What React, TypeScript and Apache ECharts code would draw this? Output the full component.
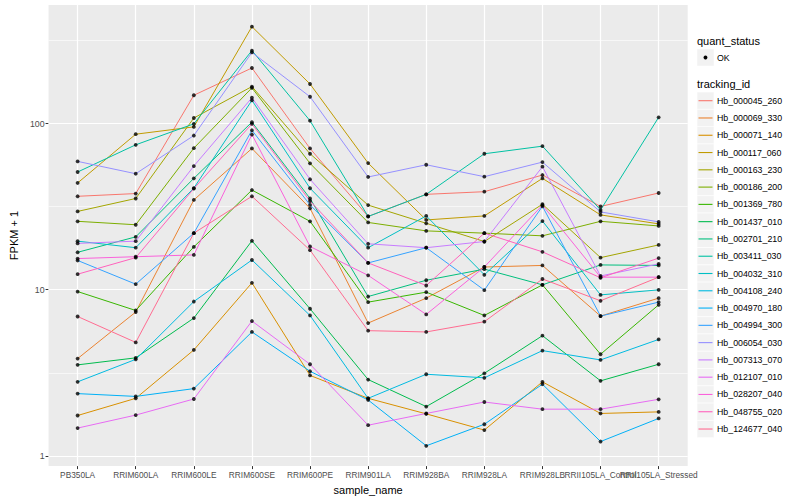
import React, { useEffect, useRef } from "react";
import * as echarts from "echarts";

const FONT = "'Liberation Sans', Arial, Helvetica, sans-serif";

const sampleNames = [
  "PB350LA", "RRIM600LA", "RRIM600LE", "RRIM600SE", "RRIM600PE", "RRIM901LA",
  "RRIM928BA", "RRIM928LA", "RRIM928LB", "RRII105LA_Control", "RRII105LA_Stressed",
];

const yTickValues = [1, 10, 100];
const yMinorValues = [3.1623, 31.623, 316.23];

const trackingIds = [
  "Hb_000045_260", "Hb_000069_330", "Hb_000071_140", "Hb_000117_060", "Hb_000163_230",
  "Hb_000186_200", "Hb_001369_780", "Hb_001437_010", "Hb_002701_210", "Hb_003411_030",
  "Hb_004032_310", "Hb_004108_240", "Hb_004970_180", "Hb_004994_300", "Hb_006054_030",
  "Hb_007313_070", "Hb_012107_010", "Hb_028207_040", "Hb_048755_020", "Hb_124677_040",
];

const trackingColors = [
  "#F8766D", "#EA8331", "#D89000", "#C09B00", "#A3A500",
  "#7CAE00", "#39B600", "#00BB4E", "#00BF7D", "#00C1A3",
  "#00BFC4", "#00BAE0", "#00B0F6", "#35A2FF", "#9590FF",
  "#C77CFF", "#E76BF3", "#FA62DB", "#FF62BC", "#FF6C91",
];

// FPKM + 1 per sample
const hb000045_260 = [36.5, 37.9, 148, 216, 70.8, 27.6, 37.5, 38.9, 49.0, 31.7, 38.2];
const hb000069_330 = [3.85, 7.34, 34.7, 70.8, 30.9, 6.3, 8.9, 13.7, 14.0, 6.94, 8.9];
const hb000071_140 = [1.75, 2.22, 4.34, 11.0, 3.05, 2.22, 1.79, 1.43, 2.79, 1.8, 1.84];
const hb000117_060 = [43.9, 86.3, 95.5, 383, 173, 57.8, 26.3, 27.8, 46.8, 28.2, 24.9];
const hb000163_230 = [29.6, 35.4, 108, 167, 65.8, 32.3, 25.1, 19.5, 32.7, 15.6, 18.6];
const hb000186_200 = [25.8, 24.6, 71.1, 164, 57.6, 25.4, 22.6, 21.9, 21.1, 25.8, 24.2];
const hb001369_780 = [9.75, 7.5, 18.1, 39.8, 25.8, 8.42, 9.67, 7.0, 10.7, 4.09, 8.11];
const hb001437_010 = [3.53, 3.89, 6.75, 19.7, 7.68, 2.88, 1.98, 3.14, 5.29, 2.83, 3.56];
const hb002701_210 = [16.8, 20.8, 46.8, 102, 35.4, 9.1, 11.4, 13.3, 10.7, 14.1, 14.0];
const hb003411_030 = [51.1, 74.5, 99.6, 275, 104, 27.6, 37.5, 65.8, 73.1, 30.2, 109];
const hb004032_310 = [19.6, 17.9, 40.9, 138, 40.8, 17.9, 27.8, 12.3, 25.9, 9.31, 9.98];
const hb004108_240 = [2.79, 3.81, 8.49, 15.1, 7.0, 2.22, 3.1, 2.95, 4.3, 3.78, 5.02];
const hb004970_180 = [2.37, 2.28, 2.54, 5.57, 3.23, 2.17, 1.15, 1.55, 2.7, 1.22, 1.68];
const hb004994_300 = [15.0, 10.8, 21.9, 91.1, 32.4, 14.5, 17.9, 9.94, 31.8, 6.94, 8.42];
const hb006054_030 = [59.2, 49.9, 84.7, 268, 145, 47.7, 56.5, 47.9, 58.6, 29.4, 25.6];
const hb007313_070 = [19.0, 19.6, 55.5, 143, 46.2, 18.9, 17.9, 19.5, 55.0, 12.1, 14.3];
const hb012107_010 = [1.47, 1.76, 2.2, 6.48, 3.56, 1.53, 1.8, 2.11, 1.91, 1.91, 2.19];
const hb028207_040 = [15.4, 15.8, 16.2, 85.9, 18.2, 12.2, 7.1, 13.7, 32.3, 11.9, 11.9];
const hb048755_020 = [12.4, 15.6, 40.6, 99.6, 34.2, 14.5, 10.6, 21.9, 16.9, 11.8, 15.5];
const hb124677_040 = [6.9, 4.82, 21.9, 36.5, 17.3, 5.67, 5.57, 6.42, 11.6, 8.58, 11.9];

const seriesValues = [
  hb000045_260, hb000069_330, hb000071_140, hb000117_060, hb000163_230,
  hb000186_200, hb001369_780, hb001437_010, hb002701_210, hb003411_030,
  hb004032_310, hb004108_240, hb004970_180, hb004994_300, hb006054_030,
  hb007313_070, hb012107_010, hb028207_040, hb048755_020, hb124677_040,
];

const quantStatus = ["OK"];

function buildLegend() {
  const g: any[] = [];
  g.push({
    type: "text", x: 697, y: 40.7, silent: true,
    style: { text: "quant_status", fontSize: 11, fontFamily: FONT, fill: "#000", verticalAlign: "middle" },
  });
  g.push({
    type: "rect", silent: true,
    shape: { x: 697, y: 49, width: 17, height: 17 },
    style: { fill: "#F2F2F2", stroke: "#fff", lineWidth: 0.5 },
  });
  g.push({
    type: "circle", silent: true,
    shape: { cx: 705.5, cy: 57.5, r: 1.9 },
    style: { fill: "#000" },
  });
  g.push({
    type: "text", x: 717, y: 57.5, silent: true,
    style: { text: quantStatus[0], fontSize: 8.8, fontFamily: FONT, fill: "#000", verticalAlign: "middle" },
  });
  g.push({
    type: "text", x: 697, y: 84, silent: true,
    style: { text: "tracking_id", fontSize: 11, fontFamily: FONT, fill: "#000", verticalAlign: "middle" },
  });
  const step = 17.28;
  trackingIds.forEach((id, i) => {
    const cy = 100.7 + i * step;
    g.push({
      type: "rect", silent: true,
      shape: { x: 697, y: cy - step / 2, width: 17, height: step },
      style: { fill: "#F2F2F2", stroke: "#fff", lineWidth: 0.6 },
    });
    g.push({
      type: "line", silent: true,
      shape: { x1: 698.5, y1: cy, x2: 712.5, y2: cy },
      style: { stroke: trackingColors[i], lineWidth: 1.1 },
    });
    g.push({
      type: "text", x: 717, y: cy, silent: true,
      style: { text: id, fontSize: 8.8, fontFamily: FONT, fill: "#000", verticalAlign: "middle" },
    });
  });
  return g;
}

export default function App() {
  const ref = useRef<HTMLDivElement>(null);

  useEffect(() => {
    if (!ref.current) return;
    const chart = echarts.init(ref.current, undefined, { renderer: "svg" });

    const gridLines = {
      type: "line",
      name: "__grid",
      data: sampleNames.map(() => "-"),
      symbol: "none",
      silent: true,
      z: 1,
      markLine: {
        silent: true,
        z: 1,
        symbol: ["none", "none"],
        label: { show: false },
        emphasis: { disabled: true },
        lineStyle: { color: "#FFFFFF", type: "solid", width: 1.2 },
        data: [
          ...sampleNames.map((s) => ({ xAxis: s, lineStyle: { color: "#FFFFFF", width: 1.2, type: "solid" } })),
          ...yTickValues.map((v) => ({ yAxis: v, lineStyle: { color: "#FFFFFF", width: 1.2, type: "solid" } })),
          ...yMinorValues.map((v) => ({ yAxis: v, lineStyle: { color: "#FFFFFF", width: 0.6, type: "solid" } })),
        ],
      },
    };

    const lineSeries = seriesValues.map((vals, i) => ({
      type: "line",
      name: trackingIds[i],
      data: vals,
      symbol: "none",
      z: 2,
      lineStyle: { color: trackingColors[i], width: 1 },
      itemStyle: { color: trackingColors[i] },
      emphasis: { disabled: true },
      silent: true,
    }));

    const pointSeries = seriesValues.map((vals, i) => ({
      type: "scatter",
      name: trackingIds[i] + " " + quantStatus[0],
      data: vals,
      symbol: "circle",
      symbolSize: 3.8,
      z: 3,
      itemStyle: { color: "#000000" },
      emphasis: { disabled: true },
      silent: true,
    }));

    chart.setOption({
      animation: false,
      textStyle: { fontFamily: FONT },
      grid: {
        left: 39.3, right: 112.3, top: 5, bottom: 32,
        show: true, backgroundColor: "#EBEBEB", borderWidth: 0,
        containLabel: false,
      },
      xAxis: {
        type: "category",
        data: sampleNames,
        boundaryGap: true,
        axisLine: { show: false },
        axisTick: { show: true, alignWithLabel: true, length: 3, lineStyle: { color: "#333333", width: 1 } },
        axisLabel: { interval: 0, hideOverlap: false, color: "#4D4D4D", fontSize: 8.3, margin: 5, fontFamily: FONT },
        splitLine: { show: false },
        name: "sample_name",
        nameLocation: "middle",
        nameGap: 12,
        nameTextStyle: { color: "#000", fontSize: 11, fontFamily: FONT },
      },
      yAxis: {
        type: "log",
        logBase: 10,
        min: 0.868,
        max: 517,
        axisLine: { show: false },
        axisTick: { show: true, length: 3, lineStyle: { color: "#333333", width: 1 } },
        axisLabel: {
          color: "#4D4D4D", fontSize: 8.8, margin: 4, fontFamily: FONT,
          showMinLabel: false, showMaxLabel: false,
          formatter: (v: number) => String(Math.round(v)),
        },
        splitLine: { show: false },
        minorSplitLine: { show: false },
        name: "FPKM + 1",
        nameLocation: "middle",
        nameGap: 20,
        nameTextStyle: { color: "#000", fontSize: 11, fontFamily: FONT },
      },
      series: [gridLines, ...lineSeries, ...pointSeries],
      graphic: buildLegend(),
    });

    return () => chart.dispose();
  }, []);

  return (
    <div
      ref={ref}
      style={{ position: "fixed", left: 0, top: 0, width: 800, height: 500, background: "#FFFFFF" }}
    />
  );
}
